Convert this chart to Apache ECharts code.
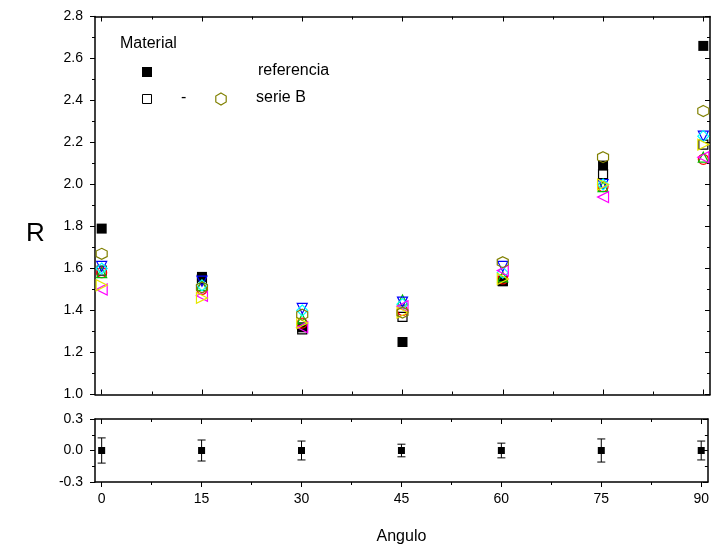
<!DOCTYPE html>
<html>
<head>
<meta charset="utf-8">
<script src="https://cdn.jsdelivr.net/npm/echarts@6/dist/echarts.min.js"></script>
<style>
  html, body { margin: 0; padding: 0; background: #fff; }
  #chart { width: 712px; height: 551px; }
</style>
</head>
<body>
<div id="chart"></div>
<script>
// angulos (x)
const angles = [0, 15, 30, 45, 60, 75, 90];
const majorTicks = [0, 15, 30, 45, 60, 75, 90];
const minorTicks = [7.5, 22.5, 37.5, 52.5, 67.5, 82.5];

// R, panel superior
const referencia = [1.79, 1.56, 1.32, 1.25, 1.54, 2.09, 2.66];
const serieSquare = [1.59, 1.55, 1.31, 1.37, 1.54, 2.05, 2.19];
const serieCircle = [1.58, 1.50, 1.34, 1.40, 1.55, 1.99, 2.12];
const serieUp = [1.58, 1.52, 1.36, 1.45, 1.56, 1.99, 2.13];
const serieDown = [1.61, 1.54, 1.41, 1.44, 1.61, 2.00, 2.23];
const serieDiamond = [1.60, 1.52, 1.40, 1.43, 1.58, 2.00, 2.23];
const serieLeft = [1.50, 1.47, 1.32, 1.42, 1.59, 1.94, 2.13];
const serieRight = [1.52, 1.46, 1.34, 1.39, 1.55, 2.00, 2.19];
const serieB = [1.67, 1.51, 1.38, 1.39, 1.63, 2.13, 2.35];

// panel inferior: residuo y barras de error
const residual = [0, 0, 0, 0, 0, 0, 0];
const errBar = [0.12, 0.10, 0.09, 0.06, 0.07, 0.11, 0.09];

const FONT = 'Liberation Sans, Arial, sans-serif';
const HEX = 'path://M5,0 L9.33,2.5 L9.33,7.5 L5,10 L0.67,7.5 L0.67,2.5 Z';
const TRI_DOWN = 'path://M0,0 L10,0 L5,10 Z';
const TRI_LEFT = 'path://M10,0 L10,10 L0,5 Z';
const TRI_RIGHT = 'path://M0,0 L0,10 L10,5 Z';

const toPts = arr => angles.map((a, i) => [a, arr[i]]);

const myChart = echarts.init(document.getElementById('chart'), null, { renderer: 'canvas' });

const hiddenLine = { show: false, onZero: false };

// ejes x: 4 por panel (mayor/menor, abajo/arriba)
function xAxes(grid, withLabels) {
  const base = {
    gridIndex: grid, type: 'value', min: -1, max: 91,
    splitLine: { show: false },
    axisLine: { show: true, onZero: false, lineStyle: { color: '#000', width: 1.5 } },
    axisLabel: { show: false }
  };
  const bottomInside = !withLabels;
  return [
    Object.assign({}, base, {
      position: 'bottom',
      axisTick: { inside: bottomInside, length: 5, customValues: majorTicks, lineStyle: { color: '#000' } },
      axisLabel: withLabels ? {
        show: true, customValues: majorTicks, color: '#000', fontSize: 14, fontFamily: FONT, margin: 10
      } : { show: false },
      name: withLabels ? 'Angulo' : '',
      nameLocation: 'middle', nameGap: 47,
      nameTextStyle: { color: '#000', fontSize: 16, fontFamily: FONT }
    }),
    Object.assign({}, base, {
      position: 'bottom', axisLine: hiddenLine,
      axisTick: { inside: bottomInside, length: 3, customValues: minorTicks, lineStyle: { color: '#000' } }
    }),
    Object.assign({}, base, {
      position: 'top',
      axisTick: { inside: true, length: 5, customValues: majorTicks, lineStyle: { color: '#000' } }
    }),
    Object.assign({}, base, {
      position: 'top', axisLine: hiddenLine,
      axisTick: { inside: true, length: 3, customValues: minorTicks, lineStyle: { color: '#000' } }
    })
  ];
}

function yAxes(grid, min, max, interval) {
  const base = {
    gridIndex: grid, type: 'value', min: min, max: max, interval: interval,
    splitLine: { show: false },
    axisLine: { show: true, onZero: false, lineStyle: { color: '#000', width: 1.5 } },
    minorTick: { show: true, splitNumber: 2, length: 3, lineStyle: { color: '#000' } }
  };
  return [
    Object.assign({}, base, {
      position: 'left',
      axisTick: { inside: false, length: 5, lineStyle: { color: '#000' } },
      axisLabel: {
        color: '#000', fontSize: 14, fontFamily: FONT, margin: 12,
        formatter: v => v.toFixed(1)
      }
    }),
    Object.assign({}, base, {
      position: 'right',
      axisTick: { inside: true, length: 5, lineStyle: { color: '#000' } },
      axisLabel: { show: false }
    })
  ];
}

function openSeries(name, data, symbol, color, size) {
  return {
    name: name, type: 'scatter', xAxisIndex: 0, yAxisIndex: 0,
    data: toPts(data), symbol: symbol, symbolSize: size || 10,
    itemStyle: { color: 'rgba(0,0,0,0)', borderColor: color, borderWidth: 1.2, opacity: 1 }
  };
}

const option = {
  animation: false,
  grid: [
    { left: 95, right: 2, top: 16.5, height: 378 },
    { left: 95, right: 2, top: 419, height: 63 }
  ],
  xAxis: xAxes(0, false).concat(xAxes(1, true)),
  yAxis: yAxes(0, 1.0, 2.8, 0.2).concat(yAxes(1, -0.3, 0.3, 0.3)),
  graphic: [
    { type: 'text', left: 26, top: 221, style: { text: 'R', font: '26px ' + FONT, fill: '#000' } },
    { type: 'text', left: 120, top: 36, style: { text: 'Material', font: '16px ' + FONT, fill: '#000' } },
    { type: 'rect', shape: { x: 142, y: 67, width: 10, height: 10 }, style: { fill: '#000' } },
    { type: 'text', left: 258, top: 63, style: { text: 'referencia', font: '16px ' + FONT, fill: '#000' } },
    { type: 'rect', shape: { x: 142.5, y: 94.5, width: 9, height: 9 }, style: { fill: 'none', stroke: '#000', lineWidth: 1 } },
    { type: 'text', left: 181, top: 90, style: { text: '-', font: '16px ' + FONT, fill: '#000' } },
    {
      type: 'polygon',
      shape: { points: [[221, 93], [226.2, 96], [226.2, 102], [221, 105], [215.8, 102], [215.8, 96]] },
      style: { fill: 'none', stroke: '#808000', lineWidth: 1.2 }
    },
    { type: 'text', left: 256, top: 90, style: { text: 'serie B', font: '16px ' + FONT, fill: '#000' } }
  ],
  series: [
    {
      name: 'referencia', type: 'scatter', xAxisIndex: 0, yAxisIndex: 0,
      data: toPts(referencia), symbol: 'rect', symbolSize: 10,
      itemStyle: { color: '#000', opacity: 1 }
    },
    openSeries('s1', serieSquare, 'rect', '#000', 9),
    openSeries('s2', serieCircle, 'circle', '#ff0000', 10),
    openSeries('s3', serieUp, 'triangle', '#00c000', 10),
    openSeries('s4', serieDown, TRI_DOWN, '#0000ff', 10),
    openSeries('s5', serieDiamond, 'diamond', '#00ffff', 11),
    openSeries('s6', serieLeft, TRI_LEFT, '#ff00ff', 11),
    openSeries('s7', serieRight, TRI_RIGHT, '#e6e600', 11),
    openSeries('serie B', serieB, HEX, '#808000', 11),
    {
      name: 'error', type: 'custom', xAxisIndex: 4, yAxisIndex: 2,
      data: angles.map((a, i) => [a, residual[i] - errBar[i], residual[i] + errBar[i]]),
      renderItem: function (params, api) {
        const lo = api.coord([api.value(0), api.value(1)]);
        const hi = api.coord([api.value(0), api.value(2)]);
        const w = 4;
        const st = { stroke: '#000', lineWidth: 1 };
        return {
          type: 'group',
          children: [
            { type: 'line', shape: { x1: lo[0], y1: lo[1], x2: hi[0], y2: hi[1] }, style: st },
            { type: 'line', shape: { x1: lo[0] - w, y1: lo[1], x2: lo[0] + w, y2: lo[1] }, style: st },
            { type: 'line', shape: { x1: hi[0] - w, y1: hi[1], x2: hi[0] + w, y2: hi[1] }, style: st }
          ]
        };
      },
      z: 2
    },
    {
      name: 'residuo', type: 'scatter', xAxisIndex: 4, yAxisIndex: 2,
      data: toPts(residual), symbol: 'rect', symbolSize: 7,
      itemStyle: { color: '#000', opacity: 1 }, z: 3
    }
  ]
};

myChart.setOption(option);
</script>
</body>
</html>
